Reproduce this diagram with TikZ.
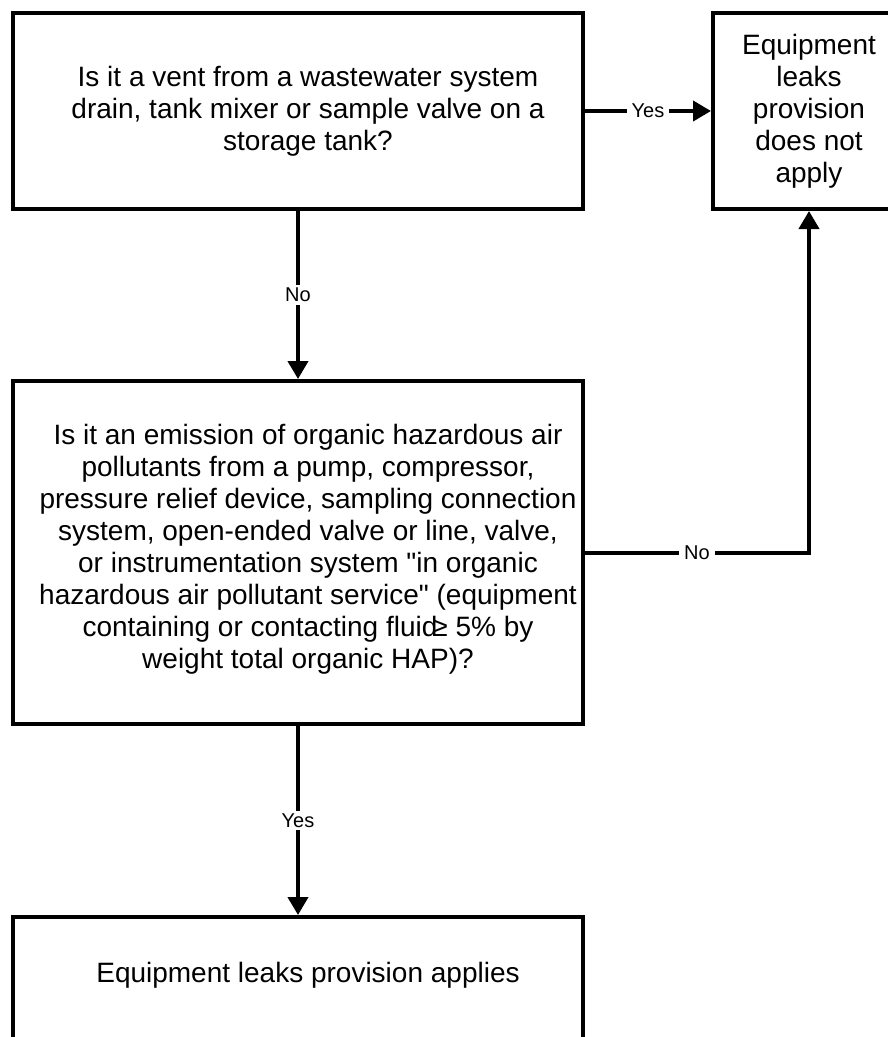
\documentclass[tikz,border=0pt]{standalone}
\usepackage{fontspec}
\setmainfont{Liberation Sans}
\usetikzlibrary{arrows.meta}
\begin{document}
\begin{tikzpicture}[x=1pt,y=-1pt,
  box/.style={draw=black,line width=4pt,rectangle,inner sep=0pt},
  txt/.style={align=center,font=\fontsize{28pt}{32pt}\selectfont,inner sep=0pt},
  lbl/.style={fill=white,font=\fontsize{20pt}{24pt}\selectfont,inner xsep=5pt,inner ysep=3pt},
  flow/.style={line width=4pt,-{Triangle[length=18pt,width=20pt]}}]
\useasboundingbox (0,0) rectangle (887,1037);

% first question
\node[box,minimum width=570pt,minimum height=196pt] (q1) at (298,111) {};
\node[txt] (q1t) at (308,111) {Is it a vent from a wastewater system\\drain, tank mixer or sample valve on a\\storage tank?};

% outcome: provision does not apply
\node[box,minimum width=192pt,minimum height=196pt] (na) at (809,111) {};
\node[txt] (nat) at (809,111) {Equipment\\leaks\\provision\\does not\\apply};

% second question
\node[box,minimum width=570pt,minimum height=343pt] (q2) at (298,552.5) {};
\node[txt] (q2t) at (308,549) {Is it an emission of organic hazardous air\\pollutants from a pump, compressor,\\pressure relief device, sampling connection\\system, open-ended valve or line, valve,\\or instrumentation system \textquotedbl in organic\\hazardous air pollutant service\textquotedbl{} (equipment\\containing or contacting fluid\kern-5pt≥ 5\% by\\weight total organic HAP)?};

% outcome: provision applies
\node[box,minimum width=570pt,minimum height=130pt] (ap) at (298,982) {};
\node[txt] (apt) at (308,975) {Equipment leaks provision applies};

% connectors
\draw[flow] (q1.east) -- node[lbl]{Yes} (na.west);
\draw[flow] (q1.south) -- node[lbl]{No} (q2.north);
\draw[flow] (q2.east) -- node[lbl]{No} (na.south |- q2.east) -- (na.south);
\draw[flow] (q2.south) -- node[lbl]{Yes} (ap.north);
\end{tikzpicture}
\end{document}
